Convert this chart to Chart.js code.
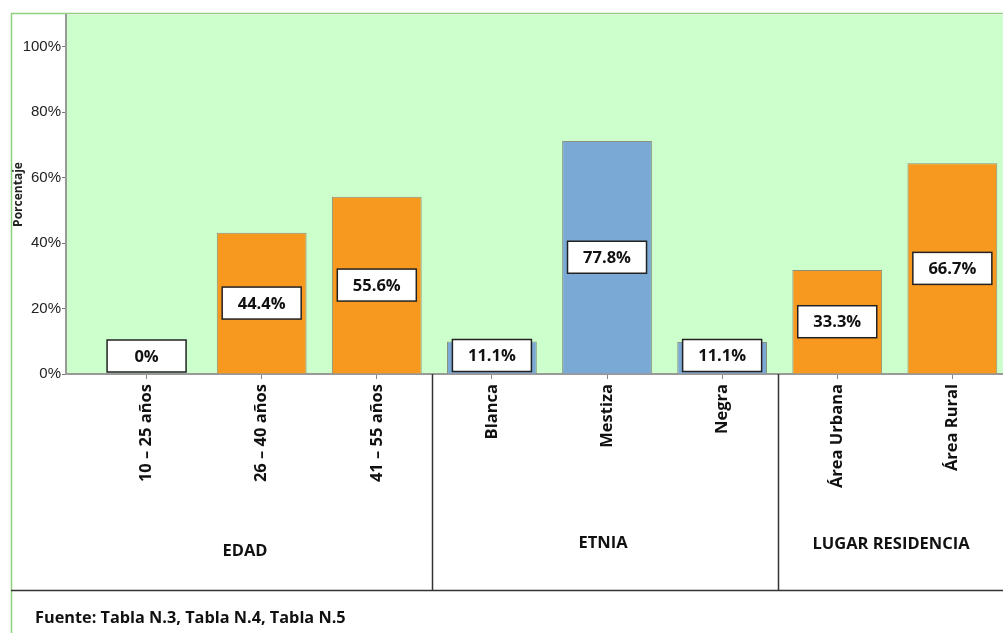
<!DOCTYPE html>
<html>
<head>
<meta charset="utf-8">
<script src="https://cdn.jsdelivr.net/npm/chart.js@4.4.1/dist/chart.umd.min.js"></script>
<style>
  html, body { margin: 0; padding: 0; background: #fff; }
  #wrap { position: relative; width: 1003px; height: 633px; overflow: hidden; }
  #chart { position: absolute; left: 0; top: 0; }
  .grp, .foot { position: absolute; font-family: 'Open Sans', Lato, sans-serif; font-weight: 700; color: #111; white-space: nowrap; }
  .grp { font-size: 16.5px; transform: translate(-50%, -50%); }
  .foot { font-size: 16.3px; left: 35px; top: 606px; }
</style>
</head>
<body>
<div id="wrap">
  <canvas id="chart" width="1003" height="633"></canvas>
  <div class="grp" style="left:245px; top:549px;">EDAD</div>
  <div class="grp" style="left:603px; top:541px;">ETNIA</div>
  <div class="grp" style="left:891px; top:542px;">LUGAR RESIDENCIA</div>
  <div class="foot">Fuente: Tabla N.3, Tabla N.4, Tabla N.5</div>
</div>
<script>
// categories and groups
var categories = ['10 – 25 años', '26 – 40 años', '41 – 55 años', 'Blanca', 'Mestiza', 'Negra', 'Área Urbana', 'Área Rural'];
var groups = ['EDAD', 'EDAD', 'EDAD', 'ETNIA', 'ETNIA', 'ETNIA', 'LUGAR RESIDENCIA', 'LUGAR RESIDENCIA'];
// bar heights as drawn (%), and the labels written in the boxes
var values = [0, 43.2, 54.2, 9.9, 71.2, 9.8, 31.8, 64.4];
var valueLabels = ['0%', '44.4%', '55.6%', '11.1%', '77.8%', '11.1%', '33.3%', '66.7%'];
var yTicks = [0, 20, 40, 60, 80, 100];

var groupColors = {
    'EDAD': '#F7991F',
    'ETNIA': '#7BA9D6',
    'LUGAR RESIDENCIA': '#F7991F'
};

var chartDeco = {
    id: 'chartDeco',
    beforeDraw(chart) {
        const ctx = chart.ctx, a = chart.chartArea;
        ctx.save();
        ctx.fillStyle = '#CCFFCC';
        ctx.fillRect(a.left, a.top, a.right - a.left, a.bottom - a.top);
        // outer frame
        ctx.strokeStyle = '#8FD07F';
        ctx.lineWidth = 1.5;
        ctx.beginPath();
        ctx.moveTo(11.5, 633);
        ctx.lineTo(11.5, 13.5);
        ctx.lineTo(1003, 13.5);
        ctx.stroke();
        ctx.restore();
    },
    afterDatasetsDraw(chart) {
        const ctx = chart.ctx;
        const meta = chart.getDatasetMeta(0);
        ctx.save();
        meta.data.forEach(function (bar, i) {
            const w = 79, h = 32;
            const cx = bar.x;
            const cy = Math.min((bar.y + bar.base) / 2, bar.base - 18);
            ctx.fillStyle = '#fff';
            ctx.fillRect(cx - w / 2, cy - h / 2, w, h);
            ctx.strokeStyle = '#222';
            ctx.lineWidth = 1.5;
            ctx.strokeRect(cx - w / 2, cy - h / 2, w, h);
            ctx.fillStyle = '#111';
            ctx.font = 'bold 16.5px "Open Sans", Lato, sans-serif';
            ctx.textAlign = 'center';
            ctx.textBaseline = 'middle';
            ctx.fillText(valueLabels[i], cx, cy + 1);
        });
        ctx.restore();
    },
    afterDraw(chart) {
        const ctx = chart.ctx, a = chart.chartArea, x = chart.scales.x;
        ctx.save();
        ctx.strokeStyle = '#333';
        ctx.lineWidth = 1.5;
        ctx.beginPath();
        [2.5, 5.5].forEach(function (v) {
            const px = Math.round(x.getPixelForValue(v)) - 1.5;
            ctx.moveTo(px, a.bottom);
            ctx.lineTo(px, 590);
        });
        ctx.moveTo(11, 590.5);
        ctx.lineTo(1003, 590.5);
        ctx.stroke();
        ctx.restore();
    }
};

new Chart(document.getElementById('chart'), {
    type: 'bar',
    data: {
        datasets: [{
            data: values.map(function (v, i) { return { x: i, y: v }; }),
            backgroundColor: groups.map(function (g) { return groupColors[g]; }),
            borderColor: 'rgba(110,100,90,0.7)',
            borderWidth: 1,
            categoryPercentage: 1,
            barPercentage: 0.78
        }]
    },
    options: {
        responsive: false,
        animation: false,
        layout: { padding: { left: 11, top: 15, right: 0, bottom: 43 } },
        plugins: { legend: { display: false }, tooltip: { enabled: false } },
        scales: {
            x: {
                type: 'linear',
                offset: false,
                min: -0.7,
                max: 7.44,
                afterBuildTicks(scale) {
                    scale.ticks = categories.map(function (c, i) { return { value: i }; });
                },
                afterFit(scale) { scale.height = 216; },
                ticks: {
                    autoSkip: false,
                    minRotation: 90,
                    maxRotation: 90,
                    padding: 5,
                    color: '#111',
                    font: { family: '"Open Sans", Lato, sans-serif', size: 16.5, weight: 'bold' },
                    callback(v) { return categories[v]; }
                },
                grid: { offset: false, drawOnChartArea: false, tickLength: 5, color: '#888' },
                border: { color: '#999', width: 2 }
            },
            y: {
                min: 0,
                max: 109.7,
                afterBuildTicks(scale) {
                    scale.ticks = yTicks.map(function (v) { return { value: v }; });
                },
                afterFit(scale) { scale.width = 55; },
                ticks: {
                    padding: 1,
                    color: '#222',
                    font: { family: '"Liberation Sans Narrow", "Arial Narrow", "Liberation Sans", sans-serif', size: 15 },
                    callback(v) { return v + '%'; }
                },
                grid: { drawOnChartArea: false, tickLength: 4, color: '#777' },
                border: { color: '#999', width: 2 },
                title: {
                    display: true,
                    text: 'Porcentaje',
                    color: '#222',
                    padding: { top: 0, bottom: 0 },
                    font: { family: '"Open Sans", Lato, sans-serif', size: 12, weight: 'bold' }
                }
            }
        }
    },
    plugins: [chartDeco]
});
</script>
</body>
</html>
